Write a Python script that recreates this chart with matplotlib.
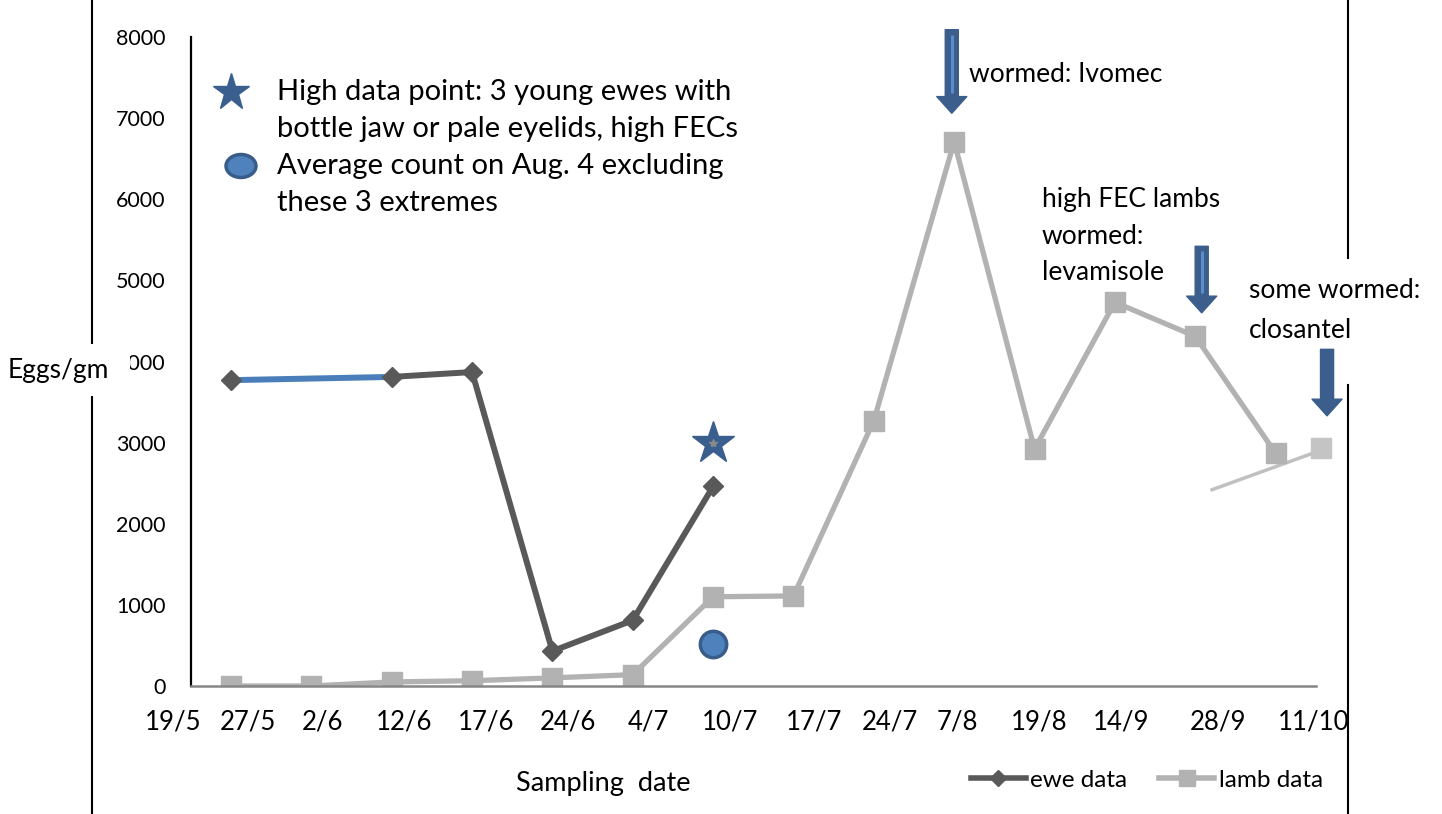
import matplotlib
matplotlib.use('Agg')
import matplotlib.pyplot as plt
import numpy as np
from matplotlib.lines import Line2D
from matplotlib.patches import Rectangle, Ellipse

plt.rcParams['font.family'] = ['Lato', 'DejaVu Sans']

# ---- datos ----
fechas = ['19/5', '27/5', '2/6', '12/6', '17/6', '24/6', '4/7', '10/7',
          '17/7', '24/7', '7/8', '19/8', '14/9', '28/9', '11/10']
ewe = [3770, np.nan, 3810, 3870, 430, 810, 2460]
lamb = [0, 0, 50, 65, 100, 140, 1100, 1110, 3270, 6710, 2920, 4730, 4310, 2870]
lamb_extra_x = [13.57]
lamb_extra = [2930]
star_x, star_y = [6], [3000]        # 3 ovejas jovenes
avg_x, avg_y = [6], [520]           # promedio sin extremos

# posicion de las etiquetas del eje x (desplazadas como en el original)
pos_fechas = [-0.72, 0.21, 1.14, 2.16, 3.17, 4.19, 5.19, 6.21,
              7.25, 8.20, 9.04, 10.06, 11.08, 12.28, 13.47]

W, H = 1442, 814
fig = plt.figure(figsize=(W / 100, H / 100), dpi=100)
ax = fig.add_axes([190.8 / W, 1 - 686 / H, 1125 / W, 649 / H])

def fx(px):
    return px / W

def fy(py):
    return 1 - py / H

# ---- series ----
ewe_c = '#595959'
lamb_c = '#b2b2b2'
xe = np.arange(len(ewe))
xl = np.arange(len(lamb))
ax.plot(xe, ewe, color=ewe_c, lw=4.3, zorder=3)
ax.plot([xe[0], xe[2]], [ewe[0], ewe[2]], color='#4a7ebb', lw=4.3, zorder=4)
ax.plot(xe, ewe, ls='none', marker='D', ms=10, color=ewe_c, zorder=5)
ax.plot(xl, lamb, color=lamb_c, lw=3.8, marker='s', ms=14, zorder=2)
ax.plot(lamb_extra_x, lamb_extra, ls='none', marker='s', ms=14, color='#c4c4c4',
        zorder=2, clip_on=False)
ax.plot([12.21, 13.52], [2420, 2890], color='#c0c0c0', lw=2.5, zorder=1, clip_on=False)

ax.plot(star_x, star_y, ls='none', marker='*', ms=32, color='#3a5f8f', zorder=6)
ax.plot(star_x, star_y, ls='none', marker='*', ms=6, color='#8a8a8a', zorder=7)
ax.plot(avg_x, avg_y, ls='none', marker='o', ms=19, mfc='#4f81bd', mec='#385d8a',
        mew=2.5, zorder=6)

# ---- ejes ----
ax.set_xlim(-0.5, 13.5)
ax.set_ylim(0, 8000)
ax.set_yticks(np.arange(0, 8001, 1000))
ax.tick_params(axis='y', length=0, pad=18, labelsize=15.5)
ax.set_xticks([])
for s in ['top', 'right']:
    ax.spines[s].set_visible(False)
ax.spines['left'].set_color('black')
ax.spines['left'].set_linewidth(1.6)
ax.spines['bottom'].set_color('#868686')
ax.spines['bottom'].set_linewidth(1.8)

for lab, p in zip(fechas, pos_fechas):
    ax.text(p, -0.0555, lab, transform=ax.get_xaxis_transform(), ha='center',
            va='center', fontsize=18.5, clip_on=False)

fig.text(fx(603), fy(784), 'Sampling  date', ha='center', va='center', fontsize=19.5)

# ---- marco exterior ----
fig.add_artist(Line2D([fx(92), fx(92)], [fy(0), fy(814)], color='black', lw=1.5))
fig.add_artist(Line2D([fx(1348), fx(1348)], [fy(0), fy(258)], color='black', lw=1.5))
fig.add_artist(Line2D([fx(1348), fx(1348)], [fy(385), fy(814)], color='black', lw=1.5))

# etiqueta eje y tapando parte del 4000
fig.add_artist(Rectangle((fx(4), fy(396)), 126 / W, 52 / H, transform=fig.transFigure,
                         facecolor='white', edgecolor='none', zorder=5))
fig.text(fx(8), fy(370), 'Eggs/gm', ha='left', va='center', fontsize=19, zorder=6)

# ---- leyenda de simbolos ----
fig.add_artist(Line2D([fx(231)], [fy(92)], marker='*', ms=28, color='#3a5f8f', ls='none'))
fig.add_artist(Ellipse((2.41, (H - 166) / 100), 0.30, 0.23, transform=fig.dpi_scale_trans,
                       facecolor='#4f81bd', edgecolor='#385d8a', lw=2.5))
txt = ['High data point: 3 young ewes with', 'bottle jaw or pale eyelids, high FECs',
       'Average count on Aug. 4 excluding', 'these 3 extremes']
for t, yy in zip(txt, [92, 129, 166, 203]):
    fig.text(fx(277), fy(yy), t, ha='left', va='center', fontsize=21)

# ---- flechas de desparasitacion ----
def flecha(x, y_top, y_tip, raya=True):
    ax.annotate('', xy=(x, y_tip), xytext=(x, y_top), xycoords='data',
                arrowprops=dict(arrowstyle='simple,head_width=1.08,head_length=0.6,tail_width=0.47',
                                mutation_scale=20, fc='#3b5e8c', ec='#3b5e8c',
                                shrinkA=0, shrinkB=0), annotation_clip=False)
    if raya:
        ax.plot([x, x], [y_top - 60, y_tip + 250], color='#5b8ccc', lw=2.2,
                solid_capstyle='butt', zorder=8, clip_on=False)

flecha(8.97, 8090, 7060)
flecha(12.08, 5420, 4600)
flecha(13.64, 4150, 3330, raya=False)

fig.text(fx(969), fy(75), 'wormed: Ivomec', ha='left', va='center', fontsize=19)
for t, yy in zip(['high FEC lambs', 'wormed:', 'levamisole'], [200, 237, 272]):
    fig.text(fx(1042), fy(yy), t, ha='left', va='center', fontsize=19)
for t, yy in zip(['some wormed:', 'closantel'], [290, 330]):
    fig.text(fx(1249), fy(yy), t, ha='left', va='center', fontsize=19)

# ---- leyenda series ----
h1 = Line2D([], [], color=ewe_c, lw=4, marker='D', ms=8)
h2 = Line2D([], [], color=lamb_c, lw=4, marker='s', ms=12)
fig.legend([h1, h2], ['ewe data', 'lamb data'], loc='center right',
           bbox_to_anchor=(fx(1323), fy(780)), ncol=2, frameon=False, fontsize=17.5,
           handlelength=2.26, handletextpad=0.2, columnspacing=1.3,
           borderaxespad=0, borderpad=0)

fig.savefig('out.png', dpi=100)
